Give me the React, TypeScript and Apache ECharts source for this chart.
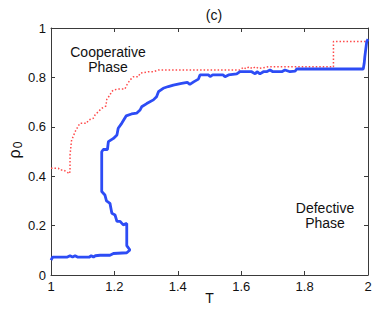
import React, { useEffect, useRef } from "react";
import * as echarts from "echarts";

const xTicks = [1, 1.2, 1.4, 1.6, 1.8, 2];
const yTicks = [0, 0.2, 0.4, 0.6, 0.8, 1];

const blueT = [1.0, 1.005, 1.05, 1.06, 1.068, 1.076, 1.085, 1.12, 1.127, 1.134, 1.14, 1.155, 1.186, 1.197, 1.239, 1.249, 1.239, 1.239, 1.228, 1.218, 1.208, 1.202, 1.192, 1.186, 1.175, 1.17, 1.16, 1.16, 1.165, 1.178, 1.181, 1.197, 1.208, 1.212, 1.223, 1.237, 1.254, 1.27, 1.281, 1.286, 1.302, 1.323, 1.333, 1.339, 1.354, 1.37, 1.386, 1.412, 1.43, 1.438, 1.45, 1.465, 1.47, 1.497, 1.502, 1.51, 1.543, 1.549, 1.56, 1.586, 1.596, 1.633, 1.644, 1.65, 1.659, 1.67, 1.68, 1.691, 1.7, 1.728, 1.738, 1.754, 1.77, 1.775, 1.985, 1.988, 1.99, 1.996, 2.0];
const blueRho = [0.06, 0.072, 0.072, 0.078, 0.073, 0.078, 0.072, 0.072, 0.078, 0.073, 0.078, 0.08, 0.08, 0.087, 0.09, 0.101, 0.119, 0.209, 0.203, 0.217, 0.217, 0.243, 0.25, 0.29, 0.3, 0.324, 0.338, 0.499, 0.508, 0.508, 0.54, 0.553, 0.567, 0.594, 0.614, 0.644, 0.652, 0.655, 0.668, 0.681, 0.694, 0.709, 0.722, 0.742, 0.756, 0.763, 0.769, 0.776, 0.78, 0.772, 0.782, 0.793, 0.81, 0.81, 0.803, 0.81, 0.81, 0.803, 0.81, 0.814, 0.823, 0.823, 0.814, 0.823, 0.814, 0.823, 0.823, 0.83, 0.823, 0.823, 0.83, 0.823, 0.825, 0.834, 0.834, 0.857, 0.884, 0.945, 0.955];

const redT = [1.0, 1.023, 1.029, 1.039, 1.049, 1.058, 1.06, 1.06, 1.065, 1.07, 1.076, 1.086, 1.091, 1.112, 1.118, 1.133, 1.139, 1.149, 1.16, 1.173, 1.176, 1.186, 1.191, 1.197, 1.212, 1.233, 1.239, 1.249, 1.26, 1.276, 1.281, 1.307, 1.323, 1.339, 1.596, 1.607, 1.615, 1.625, 1.635, 1.645, 1.655, 1.686, 1.891, 1.891, 2.0];
const redRho = [0.432, 0.432, 0.425, 0.425, 0.418, 0.41, 0.42, 0.486, 0.547, 0.56, 0.58, 0.603, 0.614, 0.614, 0.627, 0.634, 0.648, 0.661, 0.675, 0.684, 0.711, 0.729, 0.742, 0.749, 0.753, 0.753, 0.769, 0.789, 0.803, 0.803, 0.817, 0.823, 0.823, 0.83, 0.83, 0.841, 0.835, 0.843, 0.836, 0.843, 0.836, 0.843, 0.843, 0.945, 0.945];

const FONT = "Liberation Sans, Arial, sans-serif";
const AXIS_COLOR = "#3a3a3a";

export default function App() {
  const ref = useRef<HTMLDivElement>(null);
  useEffect(() => {
    if (!ref.current) return;
    const chart = echarts.init(ref.current, undefined, { renderer: "svg" });
    const fmt = (v: number) => String(Math.round(v * 10) / 10);
    const baseAxis = {
      type: "value" as const,
      axisLine: { show: true, onZero: false, lineStyle: { color: AXIS_COLOR, width: 1 } },
      axisTick: { show: true, inside: true, length: 4, lineStyle: { color: AXIS_COLOR } },
      splitLine: { show: false },
    };
    chart.setOption({
      animation: false,
      backgroundColor: "#fff",
      textStyle: { fontFamily: FONT },
      grid: { left: 51, right: 6, top: 28, bottom: 34, containLabel: false, outerBoundsMode: "none" },
      title: {
        text: "(c)",
        left: 209,
        top: 3,
        textAlign: "center",
        textStyle: { fontSize: 14, fontWeight: "normal", color: "#111", fontFamily: FONT },
      },
      xAxis: [
        {
          ...baseAxis,
          position: "bottom",
          min: xTicks[0],
          max: xTicks[xTicks.length - 1],
          interval: 0.2,
          axisLabel: { formatter: fmt, color: "#111", fontSize: 13, margin: 5, fontFamily: FONT },
          name: "T",
          nameLocation: "middle",
          nameGap: 16,
          nameMoveOverlap: false,
          nameTextStyle: { fontSize: 14, color: "#111", fontFamily: FONT, verticalAlign: "top" },
        },
        {
          ...baseAxis,
          position: "top",
          min: xTicks[0],
          max: xTicks[xTicks.length - 1],
          interval: 0.2,
          axisLabel: { show: false },
        },
      ],
      yAxis: [
        {
          ...baseAxis,
          position: "left",
          min: yTicks[0],
          max: yTicks[yTicks.length - 1],
          interval: 0.2,
          axisLabel: { formatter: fmt, color: "#111", fontSize: 13, margin: 5, fontFamily: FONT },
        },
        {
          ...baseAxis,
          position: "right",
          min: yTicks[0],
          max: yTicks[yTicks.length - 1],
          interval: 0.2,
          axisLabel: { show: false },
        },
      ],
      graphic: [
        {
          type: "group",
          x: 14,
          y: 151,
          rotation: Math.PI / 2,
          children: [
            {
              type: "text",
              x: -3,
              y: 0,
              style: { text: "ρ", fontSize: 16, fill: "#111", align: "center", verticalAlign: "middle", fontFamily: FONT },
            },
            {
              type: "text",
              x: 6,
              y: 4,
              style: { text: "0", fontSize: 12, fill: "#111", align: "center", verticalAlign: "middle", fontFamily: FONT },
            },
          ],
        },
        {
          type: "text",
          x: 108,
          y: 59,
          style: { text: "Cooperative\nPhase", fontSize: 14, lineHeight: 15, fill: "#111", align: "center", verticalAlign: "middle", fontFamily: FONT },
        },
        {
          type: "text",
          x: 325,
          y: 215,
          style: { text: "Defective\nPhase", fontSize: 14, lineHeight: 15, fill: "#111", align: "center", verticalAlign: "middle", fontFamily: FONT },
        },
      ],
      series: [
        {
          type: "line",
          xAxisIndex: 0,
          yAxisIndex: 0,
          data: redT.map((t, i) => [t, redRho[i]]),
          showSymbol: false,
          symbol: "none",
          lineStyle: { color: "#ff4a4a", width: 1.5, type: [1.5, 2] },
          z: 2,
        },
        {
          type: "line",
          xAxisIndex: 0,
          yAxisIndex: 0,
          data: blueT.map((t, i) => [t, blueRho[i]]),
          showSymbol: false,
          symbol: "none",
          lineStyle: { color: "#2d4cf5", width: 2.8 },
          z: 3,
        },
      ],
    });
    return () => chart.dispose();
  }, []);
  return <div ref={ref} style={{ position: "fixed", left: 0, top: 0, width: 374, height: 309 }} />;
}
